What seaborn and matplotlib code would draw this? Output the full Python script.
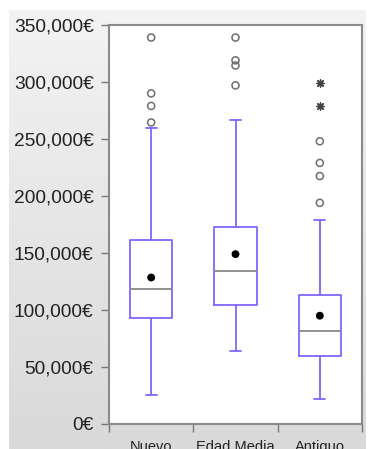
import numpy as np
import pandas as pd
import matplotlib
matplotlib.use("Agg")
import matplotlib.pyplot as plt
from matplotlib.colors import LinearSegmentedColormap
from matplotlib.ticker import FuncFormatter, FixedLocator
import seaborn as sns

# Precio de vivienda según antigüedad: resumen de cada grupo
categories = ["Nuevo", "Edad Media", "Antiguo"]
whisker_low = [25500, 64000, 22000]
q1 = [93000, 104500, 60000]
median = [118000, 134000, 81500]
q3 = [161000, 173000, 113000]
whisker_high = [260000, 267000, 179000]
mean = [128500, 149000, 95000]

# Valores atípicos (círculos) y extremos (asteriscos)
outliers = {
    "Nuevo": [339000, 290000, 279000, 264500],
    "Edad Media": [339000, 319000, 314500, 297000],
    "Antiguo": [248000, 229000, 217500, 194000],
}
extremes = {
    "Nuevo": [],
    "Edad Media": [],
    "Antiguo": [299500, 279000],
}

y_ticks = [0, 50000, 100000, 150000, 200000, 250000, 300000, 350000]

sns.set_style("ticks")
plt.rcParams["font.family"] = ["Liberation Sans", "DejaVu Sans"]

box_color = "#8464ff"
W, H = 369, 449
fig = plt.figure(figsize=(W / 100, H / 100), dpi=100)
fig.patch.set_facecolor("white")

# Panel gris con degradado vertical (claro arriba, más oscuro abajo)
bg = fig.add_axes([9 / W, 0, 357 / W, 1 - 10 / H], zorder=-5)
panel_cmap = LinearSegmentedColormap.from_list("panel", ["#f3f3f3", "#d9d9d9"])
grad = np.linspace(0, 1, 256).reshape(-1, 1)
bg.imshow(grad, cmap=panel_cmap, vmin=0, vmax=1, aspect="auto",
          extent=[0, 1, 0, 1], origin="upper")
bg.set_axis_off()

ax = fig.add_axes([109 / W, 1 - 424 / H, (362 - 109) / W, (424 - 25) / H])
ax.set_facecolor("white")

positions = list(range(len(categories)))
stats = []
for i, c in enumerate(categories):
    stats.append(dict(label=c, whislo=whisker_low[i], q1=q1[i], med=median[i],
                      q3=q3[i], whishi=whisker_high[i], fliers=[]))

ax.bxp(stats, positions=positions, widths=0.5, capwidths=0.13,
       showfliers=False, patch_artist=False,
       boxprops=dict(color=box_color, linewidth=1.3),
       whiskerprops=dict(color=box_color, linewidth=1.3),
       capprops=dict(color=box_color, linewidth=1.3),
       medianprops=dict(color="#888888", linewidth=1.3))

# Medias y atípicos a partir de tablas
mean_df = pd.DataFrame({"pos": positions, "valor": mean})
out_df = pd.DataFrame([(categories.index(c), v) for c in categories for v in outliers[c]],
                      columns=["pos", "valor"])
ext_df = pd.DataFrame([(categories.index(c), v) for c in categories for v in extremes[c]],
                      columns=["pos", "valor"])

sns.scatterplot(data=mean_df, x="pos", y="valor", ax=ax, color="black",
                s=32, edgecolor="none", zorder=4)
sns.scatterplot(data=out_df, x="pos", y="valor", ax=ax, facecolor="none",
                edgecolor="#6e6e6e", linewidth=1.1, s=26, zorder=4)
sns.scatterplot(data=ext_df, x="pos", y="valor", ax=ax, color="#444444",
                marker=(8, 2, 0), s=28, linewidth=1.0, zorder=4)

ax.set_xlim(-0.5, len(categories) - 0.5)
ax.set_ylim(0, 350000)
ax.set_xlabel("")
ax.set_ylabel("")

ax.yaxis.set_major_locator(FixedLocator(y_ticks))
ax.yaxis.set_major_formatter(FuncFormatter(lambda v, p: f"{v:,.0f}€"))
ax.tick_params(axis="y", length=6, width=1, color="#777777", pad=5,
               labelsize=13.8, labelcolor="#222222")

ax.set_xticks([p - 0.5 for p in positions] + [positions[-1] + 0.5])
ax.set_xticklabels([])
ax.set_xticks(positions, minor=True)
ax.set_xticklabels(categories, minor=True)
ax.tick_params(axis="x", which="major", length=6, width=1, color="#777777")
ax.tick_params(axis="x", which="minor", length=0, pad=11.5, labelsize=10.5,
               labelcolor="#222222")

for s in ax.spines.values():
    s.set_visible(True)
    s.set_color("#8a8a8a")
    s.set_linewidth(1.5)

fig.savefig("out.png", dpi=100)
